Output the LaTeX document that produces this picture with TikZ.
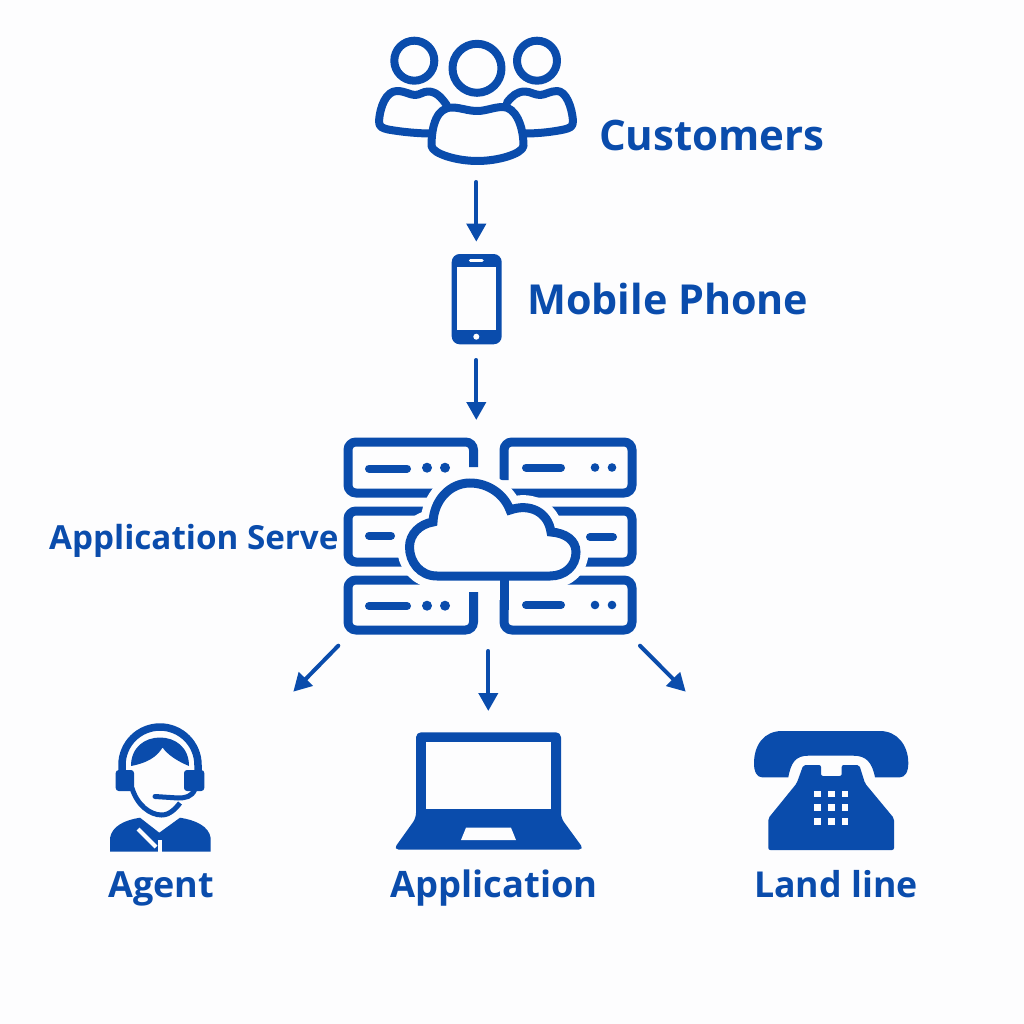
\documentclass[tikz,border=0pt]{standalone}
\usepackage{fontspec}
\setmainfont{Open Sans}
\usetikzlibrary{arrows.meta}
\definecolor{bluemain}{HTML}{0A4CAC}
\definecolor{bgpaper}{HTML}{FDFDFE}
\tikzset{
  ico/.style={draw=bluemain,line width=8pt,line join=round},
  solidico/.style={fill=bluemain,draw=none},
  srv/.style={draw=bluemain,line width=9pt,rounded corners=8pt},
  srvbar/.style={draw=bluemain,line width=8pt,line cap=round},
  flow/.style={draw=bluemain,line width=4pt,line cap=round,-{Triangle[length=18pt,width=19pt]}},
  lab/.style={text=bluemain,inner sep=0pt,anchor=base west,font=\bfseries\fontsize{#1}{#1}\selectfont},
}
\begin{document}
\begin{tikzpicture}[x=1pt,y=-1pt]
\useasboundingbox (0,0) rectangle (1024,1024);
\fill[bgpaper] (0,0) rectangle (1024,1024);
% customers
\draw[ico] (414.3,60.7) circle[radius=20pt];
\draw[ico] (537,60.7) circle[radius=20pt];
\draw[ico] (477,68.3) circle[radius=24.5pt];
\draw[ico,line cap=round] (446.7,105) .. controls (441,97) and (436,91.5) .. (428,91.5) .. controls (423,91.5) and (420,95) .. (415,95) .. controls (410,95) and (405,91) .. (397,91) .. controls (386,91) and (380,107) .. (379,121) .. controls (379,127) and (382,128) .. (388,129.5) .. controls (402,132) and (418,133.5) .. (431,133.5);
\draw[ico,line cap=round] (507,102.5) .. controls (512,96) and (517,91.5) .. (525,91.5) .. controls (530,91.5) and (535,95) .. (540,95) .. controls (545,95) and (550,91) .. (557,91) .. controls (566,91) and (572,107) .. (573,121) .. controls (573,127) and (570,128) .. (564,129.5) .. controls (552,132) and (538,133.5) .. (525,133.5);
\draw[ico] (431.5,146) .. controls (431.5,125) and (437,107.5) .. (452,107.5) .. controls (460,107.5) and (468,111) .. (477.3,111) .. controls (486,111) and (494,107) .. (503,107) .. controls (515,107) and (523.5,125) .. (523.5,146) .. controls (522,154) and (498,161) .. (477.3,161) .. controls (457,161) and (433,154) .. (431.5,146) -- cycle;
\node[lab=42] (customers) at (599,151) {Customers};
% phone
\fill[solidico,rounded corners=8pt] (451.7,254) rectangle (501.7,344.3);
\fill[bgpaper] (456.7,267.3) rectangle (495.7,330);
\draw[bgpaper,line width=3.5pt,line cap=round] (470.5,260.7) -- (482,260.7);
\fill[bgpaper] (476.3,336.7) circle[radius=3pt];
\node[lab=41.3] (mobile) at (527,314) {Mobile Phone};
% server
\draw[srv] (473.5,467) -- (473.5,442) -- (348,442) -- (348,493) -- (450,493);
\draw[srv] (504,480) -- (504,442) -- (632,442) -- (632,493) -- (500,493);
\draw[srv] (450,511) -- (348,511) -- (348,562) -- (440,562);
\draw[srv] (530,511) -- (632,511) -- (632,562) -- (550,562);
\draw[srv] (450,580) -- (348,580) -- (348,630) -- (473.5,630) -- (473.5,592);
\draw[srv] (530,580) -- (632,580) -- (632,630) -- (504,630) -- (504,600);
\foreach \yy/\dy in {468.5/467.7,606/605.7}{
  \draw[srvbar] (369,\yy) -- (407,\yy);
  \fill[bluemain] (427,\dy) circle[radius=5pt] (445,\dy) circle[radius=5pt];
}
\foreach \yy in {467.5,605}{
  \draw[srvbar] (526,\yy) -- (561,\yy);
  \fill[bluemain] (595,\yy) circle[radius=4.3pt] (612,\yy) circle[radius=4.3pt];
}
\draw[srvbar] (369,535.7) -- (391,535.7);
\draw[srvbar] (590,537) -- (613,537);
\def\cloudpath{(437,576) .. controls (420,576) and (409.5,562) .. (409.5,547) .. controls (409.5,534) and (420,524) .. (433,522) .. controls (434,500) and (450,483) .. (470,483) .. controls (488,483) and (504,494) .. (510,510) .. controls (530,503) and (548,512) .. (551,532) .. controls (565,533) and (576,540) .. (576,552) .. controls (576,566) and (565,576) .. (550,576) -- cycle}
\draw[bgpaper,line width=25pt,line join=round,fill=bgpaper] \cloudpath;
\draw[srv,line cap=butt] (504,576) -- (504,610);
\draw[draw=bluemain,line width=9pt,line join=miter,fill=bgpaper] \cloudpath;
\node[lab=33.2] (appserver) at (49,549) {Application Serve};
% connectors
\coordinate (c1) at (476.3,182);
\coordinate (c2) at (476.3,241.7);
\coordinate (c3) at (476.3,360);
\coordinate (c4) at (476.3,420);
\coordinate (c5) at (338.3,645.7);
\coordinate (c6) at (293.3,691.7);
\coordinate (c7) at (488.3,651);
\coordinate (c8) at (488.3,711);
\coordinate (c9) at (640,645.7);
\coordinate (c10) at (685.7,691.7);
\draw[flow] (c1) -- (c2);
\draw[flow] (c3) -- (c4);
\draw[flow] (c5) -- (c6);
\draw[flow] (c7) -- (c8);
\draw[flow] (c9) -- (c10);
% agent
\draw[bluemain,line width=7.5pt] (122,775) -- (122,765) .. controls (122,744) and (139,727) .. (160,727) .. controls (181,727) and (198,744) .. (198,765) -- (198,775);
\fill[bluemain,rounded corners=3pt] (115.7,770) rectangle (134,791);
\fill[bluemain,rounded corners=3pt] (184,770) rectangle (204.3,791);
\fill[bluemain] (131,766) .. controls (131,747) and (145,737.5) .. (160,737.5) .. controls (175,737.5) and (189,747) .. (189,766) .. controls (177,761) and (168,755) .. (162.5,747.5) .. controls (157,757) and (147,763) .. (131,766) -- cycle;
\draw[bluemain,line width=5pt] (132,788) .. controls (137,805) and (150,815) .. (161.7,815) .. controls (170,815) and (176,808) .. (180,803);
\draw[bluemain,line width=5pt,line cap=round] (195,789) .. controls (192,797) and (185,798) .. (178,798) -- (155,796.5);
\fill[bluemain] (110,851.7) -- (110,838) .. controls (112,826) and (125,820) .. (140,817.7) -- (159.3,832.7) -- (180,817.7) .. controls (195,820) and (209,826) .. (210.7,838) -- (210.7,851.7) -- cycle;
\draw[bgpaper,line width=4pt] (138,829) -- (156,847);
\draw[bgpaper,line width=3.5pt] (160,840) -- (160,853);
\node[lab=36] (agent) at (108,897) {Agent};
% laptop
\fill[solidico,rounded corners=5pt] (416,732.3) -- (561,732.3) -- (561,818) -- (584,849.5) -- (393.5,849.5) -- (416,818) -- cycle;
\fill[bgpaper] (425.7,741.7) rectangle (551.3,808.7);
\fill[bgpaper] (466,827.7) -- (511,827.7) -- (516,840) -- (461,840) -- cycle;
\node[lab=36.4] (application) at (390,897) {Application};
% land line
\fill[bluemain] (788.3,777.3) -- (762,777.3) .. controls (757,777.3) and (754,772) .. (754,763.3) .. controls (754,745) and (764,731) .. (782,731) -- (880,731) .. controls (897,731) and (908.3,745) .. (908.3,763.3) .. controls (908.3,772) and (905,777.3) .. (900,777.3) -- (875,777.3) .. controls (872,762) and (866,755.7) .. (853.3,755.7) -- (808.3,755.7) .. controls (796,755.7) and (791,762) .. (788.3,777.3) -- cycle;
\fill[bluemain,rounded corners=2pt] (803.3,765) -- (821,765) -- (821,776) -- (841.7,776) -- (841.7,765) -- (859.3,765) -- (865,783.3) -- (894,818.3) -- (894,850) -- (768.3,850) -- (768.3,818.3) -- (796.7,783.3) -- cycle;
\foreach \xx in {817.7,831.3,845}\foreach \yy in {794,807.7,821.3}{
  \fill[bgpaper] (\xx-3.4,\yy-3.4) rectangle (\xx+3.4,\yy+3.4);
}
\node[lab=35.7] (landline) at (754,897) {Land line};
\end{tikzpicture}
\end{document}
